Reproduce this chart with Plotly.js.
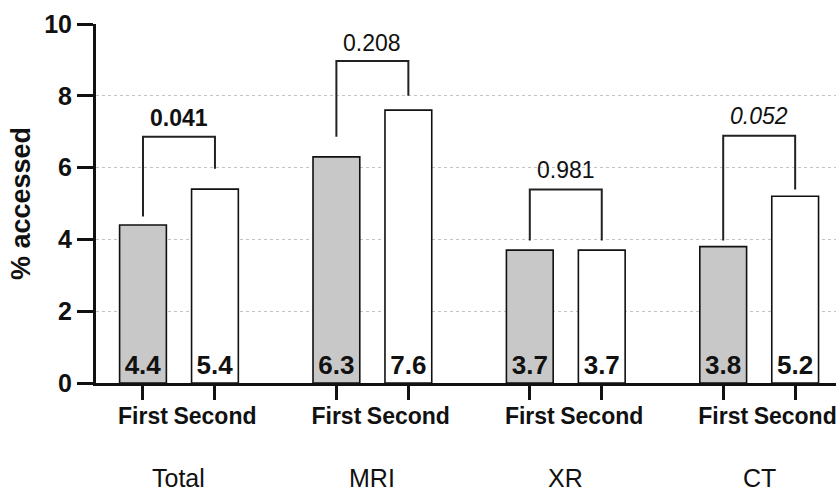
<!DOCTYPE html>
<html>
<head>
<meta charset="utf-8">
<script src="https://cdn.plot.ly/plotly-3.0.1.min.js"></script>
<style>html,body{margin:0;padding:0;background:#fff;}#chart{width:836px;height:495px;}</style>
</head>
<body>
<div id="chart"></div>
<script>
// ---- data ----
const groups = ['Total', 'MRI', 'XR', 'CT'];
const visitLabels = ['First', 'Second'];
const firstValues = [4.4, 6.3, 3.7, 3.8];
const secondValues = [5.4, 7.6, 3.7, 5.2];
const pValues = ['0.041', '0.208', '0.981', '0.052'];
const pStyles = ['bold', 'normal', 'normal', 'italic'];
// bracket levels (y units)
const bracketTop = [6.86, 8.97, 5.39, 6.89];
const bracketLegFirst = [4.64, 6.86, 3.97, 3.97];
const bracketLegSecond = [5.97, 8.0, 3.97, 5.39];
const pLabelY = [7.39, 9.47, 5.92, 7.44];

// ---- layout helpers ----
const groupSpacing = 2.6875;
const xFirst = groups.map((g, i) => i * groupSpacing);
const xSecond = groups.map((g, i) => i * groupSpacing + 1);
const FONT = 'Liberation Sans, Arial, sans-serif';

const traces = [];
traces.push({
  type: 'bar', x: xFirst, y: firstValues, width: 0.65,
  marker: {color: '#c8c8c8', line: {color: '#111', width: 1.6}},
  text: firstValues.map(v => v.toFixed(1)), textposition: 'inside', insidetextanchor: 'start',
  textangle: 0, insidetextfont: {family: FONT, size: 26, color: '#111', weight: 'bold'},
  hoverinfo: 'skip', showlegend: false
});
traces.push({
  type: 'bar', x: xSecond, y: secondValues, width: 0.65,
  marker: {color: '#ffffff', line: {color: '#111', width: 1.6}},
  text: secondValues.map(v => v.toFixed(1)), textposition: 'inside', insidetextanchor: 'start',
  textangle: 0, insidetextfont: {family: FONT, size: 26, color: '#111', weight: 'bold'},
  hoverinfo: 'skip', showlegend: false
});
groups.forEach((g, i) => {
  traces.push({
    type: 'scatter', mode: 'lines',
    x: [xFirst[i], xFirst[i], xSecond[i], xSecond[i]],
    y: [bracketLegFirst[i], bracketTop[i], bracketTop[i], bracketLegSecond[i]],
    line: {color: '#222', width: 2}, hoverinfo: 'skip', showlegend: false
  });
});

const annotations = [];
groups.forEach((g, i) => {
  annotations.push({
    x: (xFirst[i] + xSecond[i]) / 2, y: pLabelY[i], xref: 'x', yref: 'y',
    text: pValues[i], showarrow: false, xanchor: 'center', yanchor: 'middle',
    font: {family: FONT, size: 23, color: '#111', weight: pStyles[i] === 'bold' ? 'bold' : 'normal',
           style: pStyles[i] === 'italic' ? 'italic' : 'normal'}
  });
  annotations.push({
    x: (xFirst[i] + xSecond[i]) / 2, y: -0.2646, xref: 'x', yref: 'paper',
    text: g, showarrow: false, xanchor: 'center', yanchor: 'middle',
    font: {family: FONT, size: 25, color: '#111'}
  });
});

const tickvals = [];
const ticktext = [];
groups.forEach((g, i) => { tickvals.push(xFirst[i], xSecond[i]); ticktext.push(visitLabels[0], visitLabels[1]); });

const layout = {
  width: 836, height: 495,
  margin: {l: 96, r: 0, t: 24, b: 112},
  paper_bgcolor: '#fff', plot_bgcolor: '#fff',
  barmode: 'overlay', showlegend: false,
  font: {family: FONT, color: '#111'},
  xaxis: {
    range: [-0.653, 9.63], tickvals: tickvals, ticktext: ticktext,
    tickfont: {family: FONT, size: 23, color: '#111', weight: 'bold'},
    ticks: 'outside', ticklen: 14, tickwidth: 3, tickcolor: '#111',
    ticklabeloverflow: 'allow', ticklabelstandoff: -4,
    showline: true, linecolor: '#111', linewidth: 3, showgrid: false, zeroline: false,
    fixedrange: true
  },
  yaxis: {
    range: [0, 10], tickvals: [0, 2, 4, 6, 8, 10],
    tickfont: {family: FONT, size: 25, color: '#111', weight: 'bold'},
    ticks: 'outside', ticklen: 16, tickwidth: 3, tickcolor: '#111',
    showline: true, linecolor: '#111', linewidth: 3,
    showgrid: true, gridcolor: '#c4c4c4', gridwidth: 1, griddash: 'dot', zeroline: false,
    title: {text: '% accessed', font: {family: FONT, size: 27, color: '#111', weight: 'bold'}, standoff: 6},
    fixedrange: true
  },
  annotations: annotations
};

Plotly.newPlot('chart', traces, layout, {displayModeBar: false, staticPlot: true});
</script>
</body>
</html>
